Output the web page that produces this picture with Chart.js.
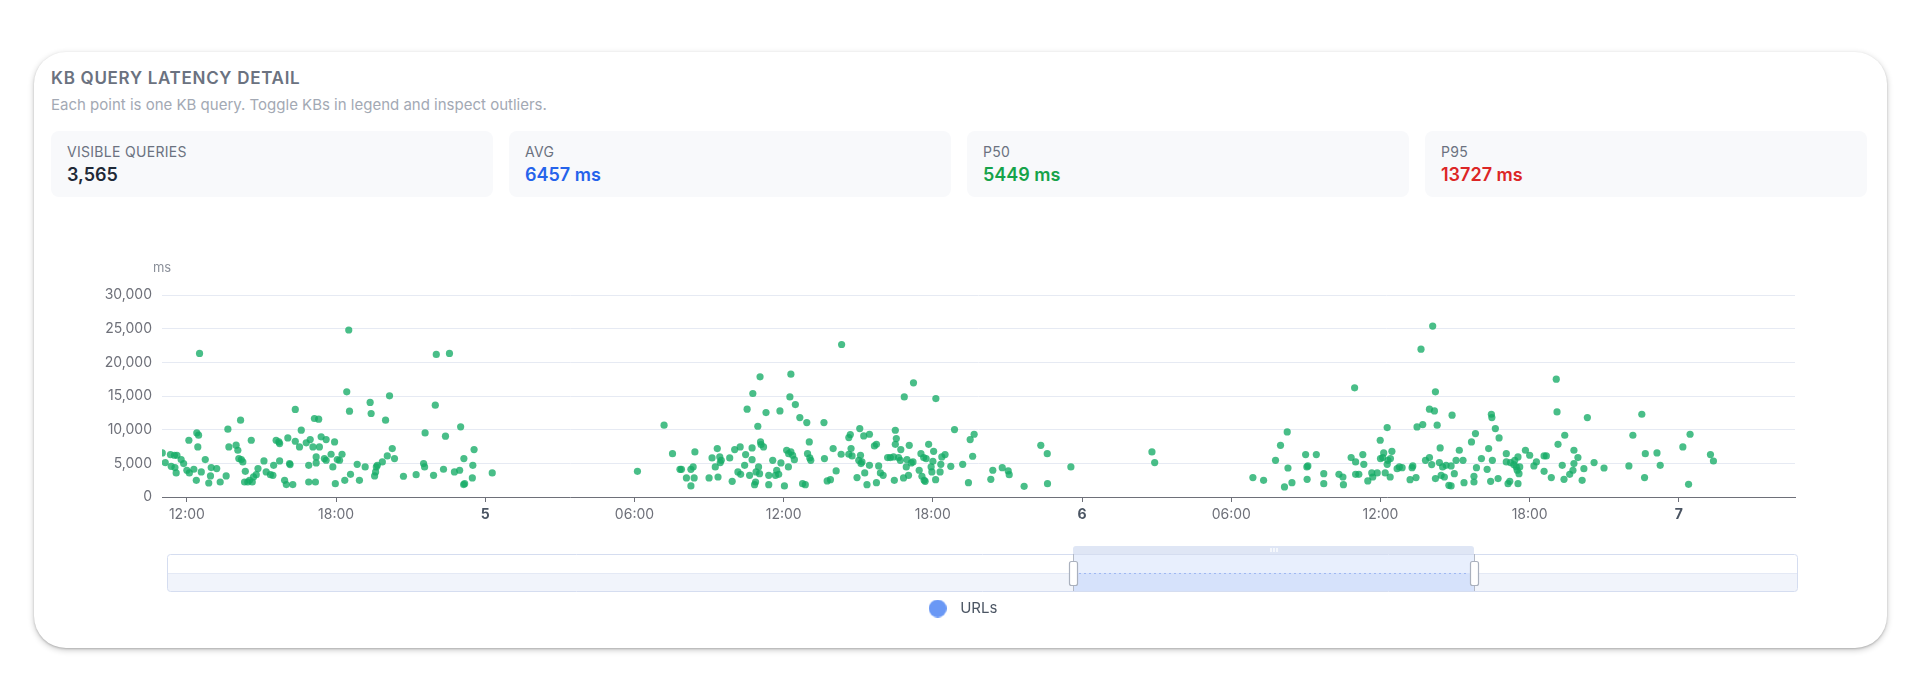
<!DOCTYPE html>
<html>
<head>
<meta charset="utf-8">
<script src="https://cdn.jsdelivr.net/npm/chart.js@4.4.1/dist/chart.umd.min.js"></script>
<style>
  html,body{margin:0;padding:0;background:#fff;}
  body{width:1920px;height:697px;overflow:hidden;position:relative;font-family:Inter,"Noto Sans",Arial,sans-serif;}
  .card{position:absolute;left:34px;top:52px;width:1853px;height:596px;border-radius:32px;background:#fff;
        box-shadow:0 1px 2px rgba(0,0,0,0.18),0 2px 6px rgba(0,0,0,0.22);}
  .title{position:absolute;left:51px;top:68px;line-height:20px;font-size:17px;font-weight:600;color:#6b7280;letter-spacing:0.7px;white-space:nowrap;}
  .sub{position:absolute;left:51px;top:96px;line-height:18px;font-size:15px;color:#a3a9b4;white-space:nowrap;}
  .stat{position:absolute;top:131px;width:442px;height:66px;border-radius:8px;background:#f8f9fb;}
  .stat .lab{position:absolute;left:16px;top:12px;line-height:18px;font-size:14px;color:#6b7280;letter-spacing:0.3px;}
  .stat .val{position:absolute;left:16px;top:33px;line-height:22px;font-size:18px;font-weight:600;}
  #chart{position:absolute;left:0;top:240px;}
</style>
</head>
<body>
<div class="card"></div>
<div class="title">KB QUERY LATENCY DETAIL</div>
<div class="sub">Each point is one KB query. Toggle KBs in legend and inspect outliers.</div>
<div class="stat" style="left:51px"><div class="lab">VISIBLE QUERIES</div><div class="val" id="v0" style="color:#1f2937"></div></div>
<div class="stat" style="left:509px"><div class="lab">AVG</div><div class="val" id="v1" style="color:#2563eb"></div></div>
<div class="stat" style="left:967px"><div class="lab">P50</div><div class="val" id="v2" style="color:#16a34a"></div></div>
<div class="stat" style="left:1425px"><div class="lab">P95</div><div class="val" id="v3" style="color:#dc2626"></div></div>
<canvas id="chart" width="1920" height="400"></canvas>
<script>
// ---- stats ----
const statVisible = '3,565';
const statAvg = '6457 ms';
const statP50 = '5449 ms';
const statP95 = '13727 ms';

// ---- axis ticks (hours since day 4, 00:00) ----
const tickHours  = [12, 18, 24, 30, 36, 42, 48, 54, 60, 66, 72];
const tickLabels = ['12:00','18:00','5','06:00','12:00','18:00','6','06:00','12:00','18:00','7'];
const dayTicks   = ['5','6','7'];
const xMin = 11, xMax = 76.67;
const yTicksMax = 30000, yStep = 5000;

// ---- data points: [hour, latency ms] ----
const day4Points = [
[11.01,6550],[11.13,5110],[11.34,6300],[11.37,4560],[11.50,6200],[11.60,6200],[11.52,4370],[11.57,3570],
[11.77,5560],[11.87,4960],[12.00,3970],[12.08,8430],[12.10,3570],[12.28,4120],[12.38,2480],[12.40,9520],
[12.47,9180],[12.44,7440],[12.51,21330],[12.58,3720],[12.74,5560],[12.88,2080],[12.98,4370],[12.95,3130],
[13.20,4220],[13.34,2230],[13.58,3130],[13.65,10070],[13.69,7440],[13.98,7690],[14.05,6940],[14.16,11410],
[14.09,5700],[14.19,5560],[14.25,5210],[14.35,3820],[14.32,2230],[14.45,2230],[14.52,2480],[14.59,8430],
[14.63,2230],[14.68,2980],[14.79,3320],[14.86,4220],[15.10,5360],[15.19,3720],[15.36,3320],[15.46,3220],
[15.49,4710],[15.59,8430],[15.70,8180],[15.73,7940],[15.73,5360],[15.93,2480],[16.00,1840],[16.06,8780],
[16.13,4960],[16.15,4810],[16.26,1840],[16.36,13000],[16.36,8280],[16.53,7440],[16.60,9920],[16.80,8040],
[16.90,2230],[16.90,4710],[16.96,8530],[17.07,7440],[17.13,11660],[17.17,2230],[17.20,5950],[17.30,11560],
[17.33,7440],[17.20,5060],[17.40,8930],[17.53,5700],[17.60,8530],[17.60,5460],[17.80,6350],[17.87,4460],
[17.94,8180],[17.97,1980],[18.05,5560],[18.14,5460],[18.24,6350],[18.35,2480],[18.43,15620],[18.51,24800],
[18.54,12750],[18.58,3370],[18.85,4860],[18.94,2480],[19.17,4460],[19.37,14040],[19.41,12400],[19.55,3130],
[19.59,3720],[19.62,4460],[19.66,4710],[19.86,5210],[19.99,11410],[20.06,6100],[20.15,15030],[20.26,7190],
[20.35,5700],[20.71,3080],[21.22,3320],[21.52,4960],[21.56,4460],[21.58,9520],[21.92,3220],[21.99,13640],
[22.03,21180],[22.32,4120],[22.40,9030],[22.56,21330],[22.76,3720],[22.97,3970],[23.01,10420],[23.14,5700],
[23.13,1840],[23.17,1980],[23.48,2830],[23.50,4710],[23.55,7040]
];
const day5Points = [
[24.28,3570],[30.12,3820],[31.19,10660],[31.53,6440],[31.83,4110],[31.89,4110],[32.27,4110],[32.36,4460],
[32.43,6690],[32.09,2830],[32.40,2830],[32.27,1640],[33.00,2830],[33.12,5800],[33.33,7190],[33.36,2970],
[33.25,4460],[33.43,5950],[33.49,5450],[33.45,5110],[33.83,5800],[33.93,2330],[34.03,7040],[34.16,3720],
[34.25,7440],[34.27,3370],[34.43,4710],[34.47,6300],[34.53,13040],[34.63,3220],[34.73,7290],[34.76,15370],
[34.73,5550],[34.83,1830],[34.87,2230],[34.89,3720],[34.99,4460],[34.96,10510],[35.05,17850],[35.07,8180],
[35.09,7780],[35.19,7440],[35.03,3470],[35.29,12540],[35.40,3220],[35.40,1830],[35.56,5450],[35.67,3220],
[35.72,3970],[35.80,3370],[35.85,12790],[35.89,5060],[36.03,1640],[36.12,6940],[36.19,4460],[36.20,6440],
[36.25,14870],[36.29,18240],[36.29,6690],[36.36,6200],[36.43,5550],[36.47,13730],[36.65,11800],[36.76,1980],
[36.87,1830],[36.93,11050],[36.96,6440],[37.03,8180],[37.05,5800],[37.09,5450],
[37.62,11050],[37.64,5700],[37.75,2380],[37.88,2580],[37.99,7190],[38.11,3870],[38.31,6350],[38.33,22650],
[38.62,6350],[38.62,8820],[38.68,9270],[38.71,7190],[38.75,6100],[38.95,2880],[39.02,5450],[39.06,10160],
[39.09,6200],[39.11,4960],[39.15,5210],[39.22,9070],[39.26,3570],[39.35,1830],[39.45,9320],[39.45,4710],
[39.65,7580],[39.73,7830],[39.73,2130],[39.82,4610],[39.89,3570],[40.00,3220],[40.18,5850],[40.29,5850],
[40.42,5950],[40.45,2480],[40.49,9910],[40.53,8680],[40.49,7830],[40.62,5850],[40.69,5450],[40.71,7040],
[40.82,2830],[40.85,14870],[40.93,4460],[40.96,5550],[41.02,3220],[41.05,7680],[41.13,5060],[41.22,16950],
[41.20,5210],[41.45,3970],[41.52,6440],[41.56,3070],[41.63,5850],[41.65,2480],[41.69,2330],[41.73,5700],
[41.83,7830],[41.93,4460],[41.96,3720],[42.00,5300],[42.03,6790],[42.11,2580],[42.12,14620],[42.29,3720],
[42.32,4860],[42.36,5950],[42.49,6300],[42.72,4560],[42.87,10010],[43.20,4860],[43.43,2130],[43.50,8530],
[43.60,6050],[43.66,9320],[44.33,2630],[44.41,3970],[44.79,4360],[45.03,3870],[45.07,3320],[45.67,1590],
[46.34,7680],[46.60,6440],[46.61,1980],[47.55,4460]
];
const day6Points = [
[50.81,6690],[50.92,5110],[54.87,2880],[55.30,2480],[55.78,5450],[55.98,7680],[56.25,9670],[56.28,4310],
[56.14,1490],[56.44,2130],[56.99,6300],[57.04,4460],[57.08,4610],[57.05,2630],[57.42,6300],[57.72,3470],
[57.72,1980],[58.33,3370],[58.49,2970],[58.51,1830],[58.82,5850],[58.96,16210],[59.00,5210],[59.00,3370],
[59.13,3370],[59.29,6300],[59.33,4860],[59.49,2380],[59.65,3570],[59.69,2970],[59.87,3570],[59.99,8430],
[60.00,5700],[60.09,5850],[60.13,6540],[60.19,3570],[60.27,10310],[60.27,4860],[60.30,5450],[60.39,2970],
[60.46,6790],[60.40,5700],[60.67,4210],[60.76,4460],[60.87,4360],[61.19,2580],[61.27,4360],[61.30,4610],
[61.43,2880],[61.47,10410],[61.63,21960],[61.70,10760],[61.81,5450],[61.97,5850],[61.97,13040],[62.06,4810],
[62.10,25380],[62.17,12790],[62.21,15620],[62.21,2730],[62.28,10660],[62.37,5110],[62.40,7290],[62.44,3220],
[62.50,4460],[62.57,2970],[62.64,4710],[62.75,1740],[62.84,4610],[62.88,12150],[62.84,1640],[62.97,3470],
[63.04,5450],[63.17,6940],
[63.32,5450],[63.36,2130],[63.66,8180],[63.76,2230],[63.76,3070],[63.82,9420],[63.86,4360],[64.06,5700],
[64.29,4110],[64.35,7190],[64.43,2330],[64.46,12290],[64.48,11800],[64.50,5450],[64.62,10160],[64.73,2730],
[64.77,8770],[65.06,6440],[65.06,5210],[65.13,1980],[65.20,2330],[65.23,5110],[65.36,4810],[65.40,5450],
[65.46,4460],[65.50,3970],[65.53,5950],[65.53,1980],[65.57,3470],[65.60,4460],[65.83,6940],[66.00,6200],
[66.17,4610],[66.27,5210],[66.58,6100],[66.58,3820],[66.67,6100],[66.87,2880],[67.07,17500],[67.10,12640],
[67.14,7830],[67.31,4710],[67.38,2630],[67.41,9170],[67.61,3370],[67.74,3970],[67.78,4960],[67.78,6940],
[67.94,5850],[68.11,2480],[68.18,4210],[68.32,11800],[68.59,5110],[68.99,4310],[69.99,4610],[70.15,9170],
[70.51,12290],[70.62,2880],[70.65,6440],[71.12,6540],[71.25,4710]
];
const day7Points = [
[72.16,7440],[72.39,1880],[72.45,9320],[73.27,6300],[73.39,5350]
];
const seriesLabel = 'URLs';
// dataZoom window (percent of full range)
const zoomStartPct = 55.6, zoomEndPct = 80.2;

document.getElementById('v0').textContent = statVisible;
document.getElementById('v1').textContent = statAvg;
document.getElementById('v2').textContent = statP50;
document.getElementById('v3').textContent = statP95;

const allPoints = [].concat(day4Points, day5Points, day6Points, day7Points).map(p => ({x: p[0], y: p[1]}));

Chart.defaults.font.family = 'Inter, "Noto Sans", Arial, sans-serif';

// legend marker
const legendDot = document.createElement('canvas');
legendDot.width = 18; legendDot.height = 18;
(function(){ const c = legendDot.getContext('2d'); c.fillStyle = '#6a98f5'; c.beginPath(); c.arc(9,9,9,0,Math.PI*2); c.fill(); })();

function rr(ctx, x, y, w, h, r){
  ctx.beginPath();
  ctx.moveTo(x+r, y); ctx.lineTo(x+w-r, y); ctx.arcTo(x+w, y, x+w, y+r, r);
  ctx.lineTo(x+w, y+h-r); ctx.arcTo(x+w, y+h, x+w-r, y+h, r);
  ctx.lineTo(x+r, y+h); ctx.arcTo(x, y+h, x, y+h-r, r);
  ctx.lineTo(x, y+r); ctx.arcTo(x, y, x+r, y, r); ctx.closePath();
}

const extrasPlugin = {
  id: 'extras',
  afterDraw(chart){
    const ctx = chart.ctx, a = chart.chartArea;
    ctx.save();
    // axis name
    ctx.fillStyle = '#8a8f99';
    ctx.font = '13px Inter, "Noto Sans", sans-serif';
    ctx.textAlign = 'center'; ctx.textBaseline = 'middle';
    ctx.fillText('ms', a.left, a.top - 27);

    // data zoom slider
    const L = a.left + 5, R = a.right + 2, T = a.bottom + 57, B = a.bottom + 94, M = Math.round((T + B) / 2);
    const W = R - L;
    rr(ctx, L + 0.5, T + 0.5, W, B - T, 3);
    ctx.fillStyle = '#ffffff'; ctx.fill();
    ctx.save(); ctx.clip();
    ctx.fillStyle = '#f1f4fb'; ctx.fillRect(L, M, W, B - M);
    ctx.fillStyle = '#e4e9f5'; ctx.fillRect(L, M, W, 1);
    ctx.restore();
    rr(ctx, L + 0.5, T + 0.5, W, B - T, 3);
    ctx.strokeStyle = '#d5ddf0'; ctx.lineWidth = 1; ctx.stroke();

    const sx = Math.round(L + W * zoomStartPct / 100), ex = Math.round(L + W * zoomEndPct / 100);
    // selection
    ctx.fillStyle = '#e8effd'; ctx.fillRect(sx, T + 1, ex - sx, M - T - 1);
    ctx.fillStyle = '#d6e2fb'; ctx.fillRect(sx, M, ex - sx, B - M);
    // move handle
    rr(ctx, sx, T - 8, ex - sx, 8, 3);
    ctx.fillStyle = '#dfe6f5'; ctx.fill();
    ctx.fillStyle = '#dfe6f5'; ctx.fillRect(sx, T - 4, ex - sx, 4);
    ctx.fillStyle = '#f4f7fc';
    const gx = Math.round((sx + ex) / 2);
    for (let i = -1; i <= 1; i++) ctx.fillRect(gx + i * 3 - 1, T - 6, 2, 4);
    // dotted line
    ctx.strokeStyle = '#9fb8f2'; ctx.setLineDash([2, 3]); ctx.lineWidth = 1;
    ctx.beginPath(); ctx.moveTo(sx + 6, M + 0.5); ctx.lineTo(ex - 6, M + 0.5); ctx.stroke();
    ctx.setLineDash([]);
    // handles
    [sx, ex].forEach(hx => {
      ctx.strokeStyle = '#b4bac6'; ctx.lineWidth = 1;
      ctx.beginPath(); ctx.moveTo(hx + 0.5, T); ctx.lineTo(hx + 0.5, B); ctx.stroke();
      rr(ctx, hx - 3.5, T + 7.5, 8, 24, 2);
      ctx.fillStyle = '#ffffff'; ctx.fill();
      ctx.strokeStyle = '#aab1be'; ctx.lineWidth = 1.2; ctx.stroke();
    });
    ctx.restore();
  }
};

new Chart(document.getElementById('chart'), {
  type: 'scatter',
  data: {
    datasets: [{
      label: seriesLabel,
      data: allPoints,
      backgroundColor: 'rgba(22,172,102,0.78)',
      borderWidth: 0,
      pointRadius: 3.6,
      pointHoverRadius: 5
    }]
  },
  options: {
    responsive: false,
    devicePixelRatio: 1,
    animation: false,
    layout: { padding: { top: 55, left: 0, right: 0, bottom: 14 } },
    plugins: {
      tooltip: { enabled: true },
      legend: {
        position: 'bottom',
        labels: {
          usePointStyle: true,
          pointStyleWidth: 30,
          padding: 10,
          color: '#4b5563',
          font: { size: 15 },
          generateLabels: () => [{
            text: seriesLabel, pointStyle: legendDot, fillStyle: '#6a98f5',
            strokeStyle: '#6a98f5', lineWidth: 0, hidden: false, datasetIndex: 0, fontColor: '#4b5563'
          }]
        }
      }
    },
    scales: {
      x: {
        type: 'linear',
        min: xMin, max: xMax,
        afterBuildTicks: s => { s.ticks = tickHours.map(v => ({ value: v })); },
        afterFit: s => { s.height = 94; },
        ticks: {
          autoSkip: false,
          maxRotation: 0,
          padding: 4,
          callback: v => tickLabels[tickHours.indexOf(v)],
          color: c => dayTicks.includes(tickLabels[c.index]) ? '#4b5563' : '#6e7079',
          font: c => ({ size: 14, weight: dayTicks.includes(tickLabels[c.index]) ? '700' : '400' })
        },
        grid: { drawOnChartArea: false, drawTicks: true, tickLength: 5, color: '#6e7079' },
        border: { display: true, color: '#6e7079', width: 1 }
      },
      y: {
        min: 0, max: yTicksMax,
        afterFit: s => { s.width = 162; },
        ticks: {
          stepSize: yStep,
          padding: 10,
          color: '#6e7079',
          font: { size: 14 },
          callback: v => v.toLocaleString('en-US')
        },
        grid: { color: '#e6eaf3', drawTicks: false, lineWidth: 1 },
        border: { display: false }
      },
      yRightSpace: {
        position: 'right',
        min: 0, max: 1,
        afterFit: s => { s.width = 125; },
        ticks: { display: false },
        grid: { display: false },
        border: { display: false }
      }
    }
  },
  plugins: [extrasPlugin]
});
</script>
</body>
</html>
